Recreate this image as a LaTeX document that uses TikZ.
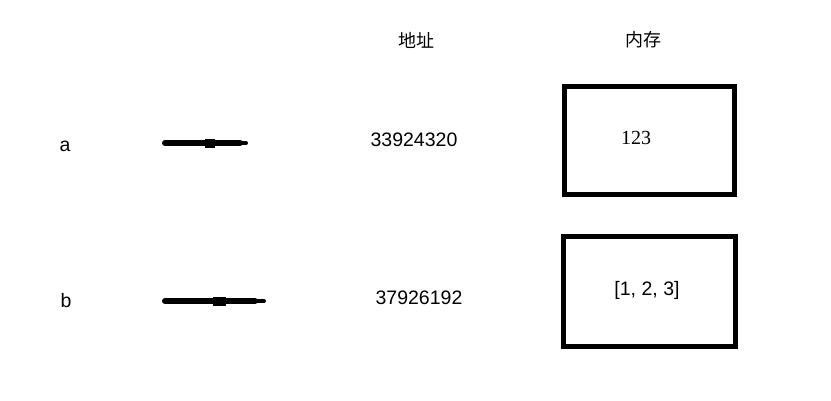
\documentclass[tikz,border=0pt]{standalone}
\usepackage{fontspec}
\setmainfont{Liberation Sans}
\newfontfamily\cjk{Noto Sans CJK SC}
\newfontfamily\serifnum{Liberation Serif}
\begin{document}
\begin{tikzpicture}[x=1pt,y=-1pt,
  lbl/.style={font=\fontsize{19.5}{21}\selectfont, inner sep=0pt},
  cjklbl/.style={font=\cjk\fontsize{18}{20}\selectfont, inner sep=0pt},
  thick line/.style={line width=6pt, line cap=round},
  blob/.style={line width=9pt},
  thin end/.style={line width=4pt, line cap=round}]
\useasboundingbox[fill=white] (0,0) rectangle (831,400);
% headers
\node[cjklbl] (h1) at (416,40) {地址};
\node[cjklbl] (h2) at (643,40) {内存};
% variable names
\node[lbl] (a) at (65,146) {a};
\node[lbl] (b) at (66,301) {b};
% addresses
\node[lbl] (adda) at (414,140) {33924320};
\node[lbl] (addb) at (419,298) {37926192};
% memory boxes
\draw[line width=5pt] (564.5,86.5) rectangle (734.5,194.5);
\node[font=\serifnum\fontsize{20}{22}\selectfont, inner sep=0pt] (va) at (636,138) {123};
\draw[line width=5pt] (563.5,236.5) rectangle (735.5,346.5);
\node[lbl] (vb) at (647,290) {[1, 2, 3]};
% pointer lines a
\coordinate (a1) at (165,143);
\coordinate (a2) at (240,143);
\coordinate (a3) at (246,143);
\draw[thick line] (a1) -- (a2);
\draw[blob] (205,143) -- (215,143);
\draw[thin end] (a2) -- (a3);
% pointer lines b
\coordinate (b1) at (165,301);
\coordinate (b2) at (255,301);
\coordinate (b3) at (264,301);
\draw[thick line] (b1) -- (b2);
\draw[blob] (213,301) -- (226,301);
\draw[thin end] (b2) -- (b3);
\end{tikzpicture}
\end{document}
